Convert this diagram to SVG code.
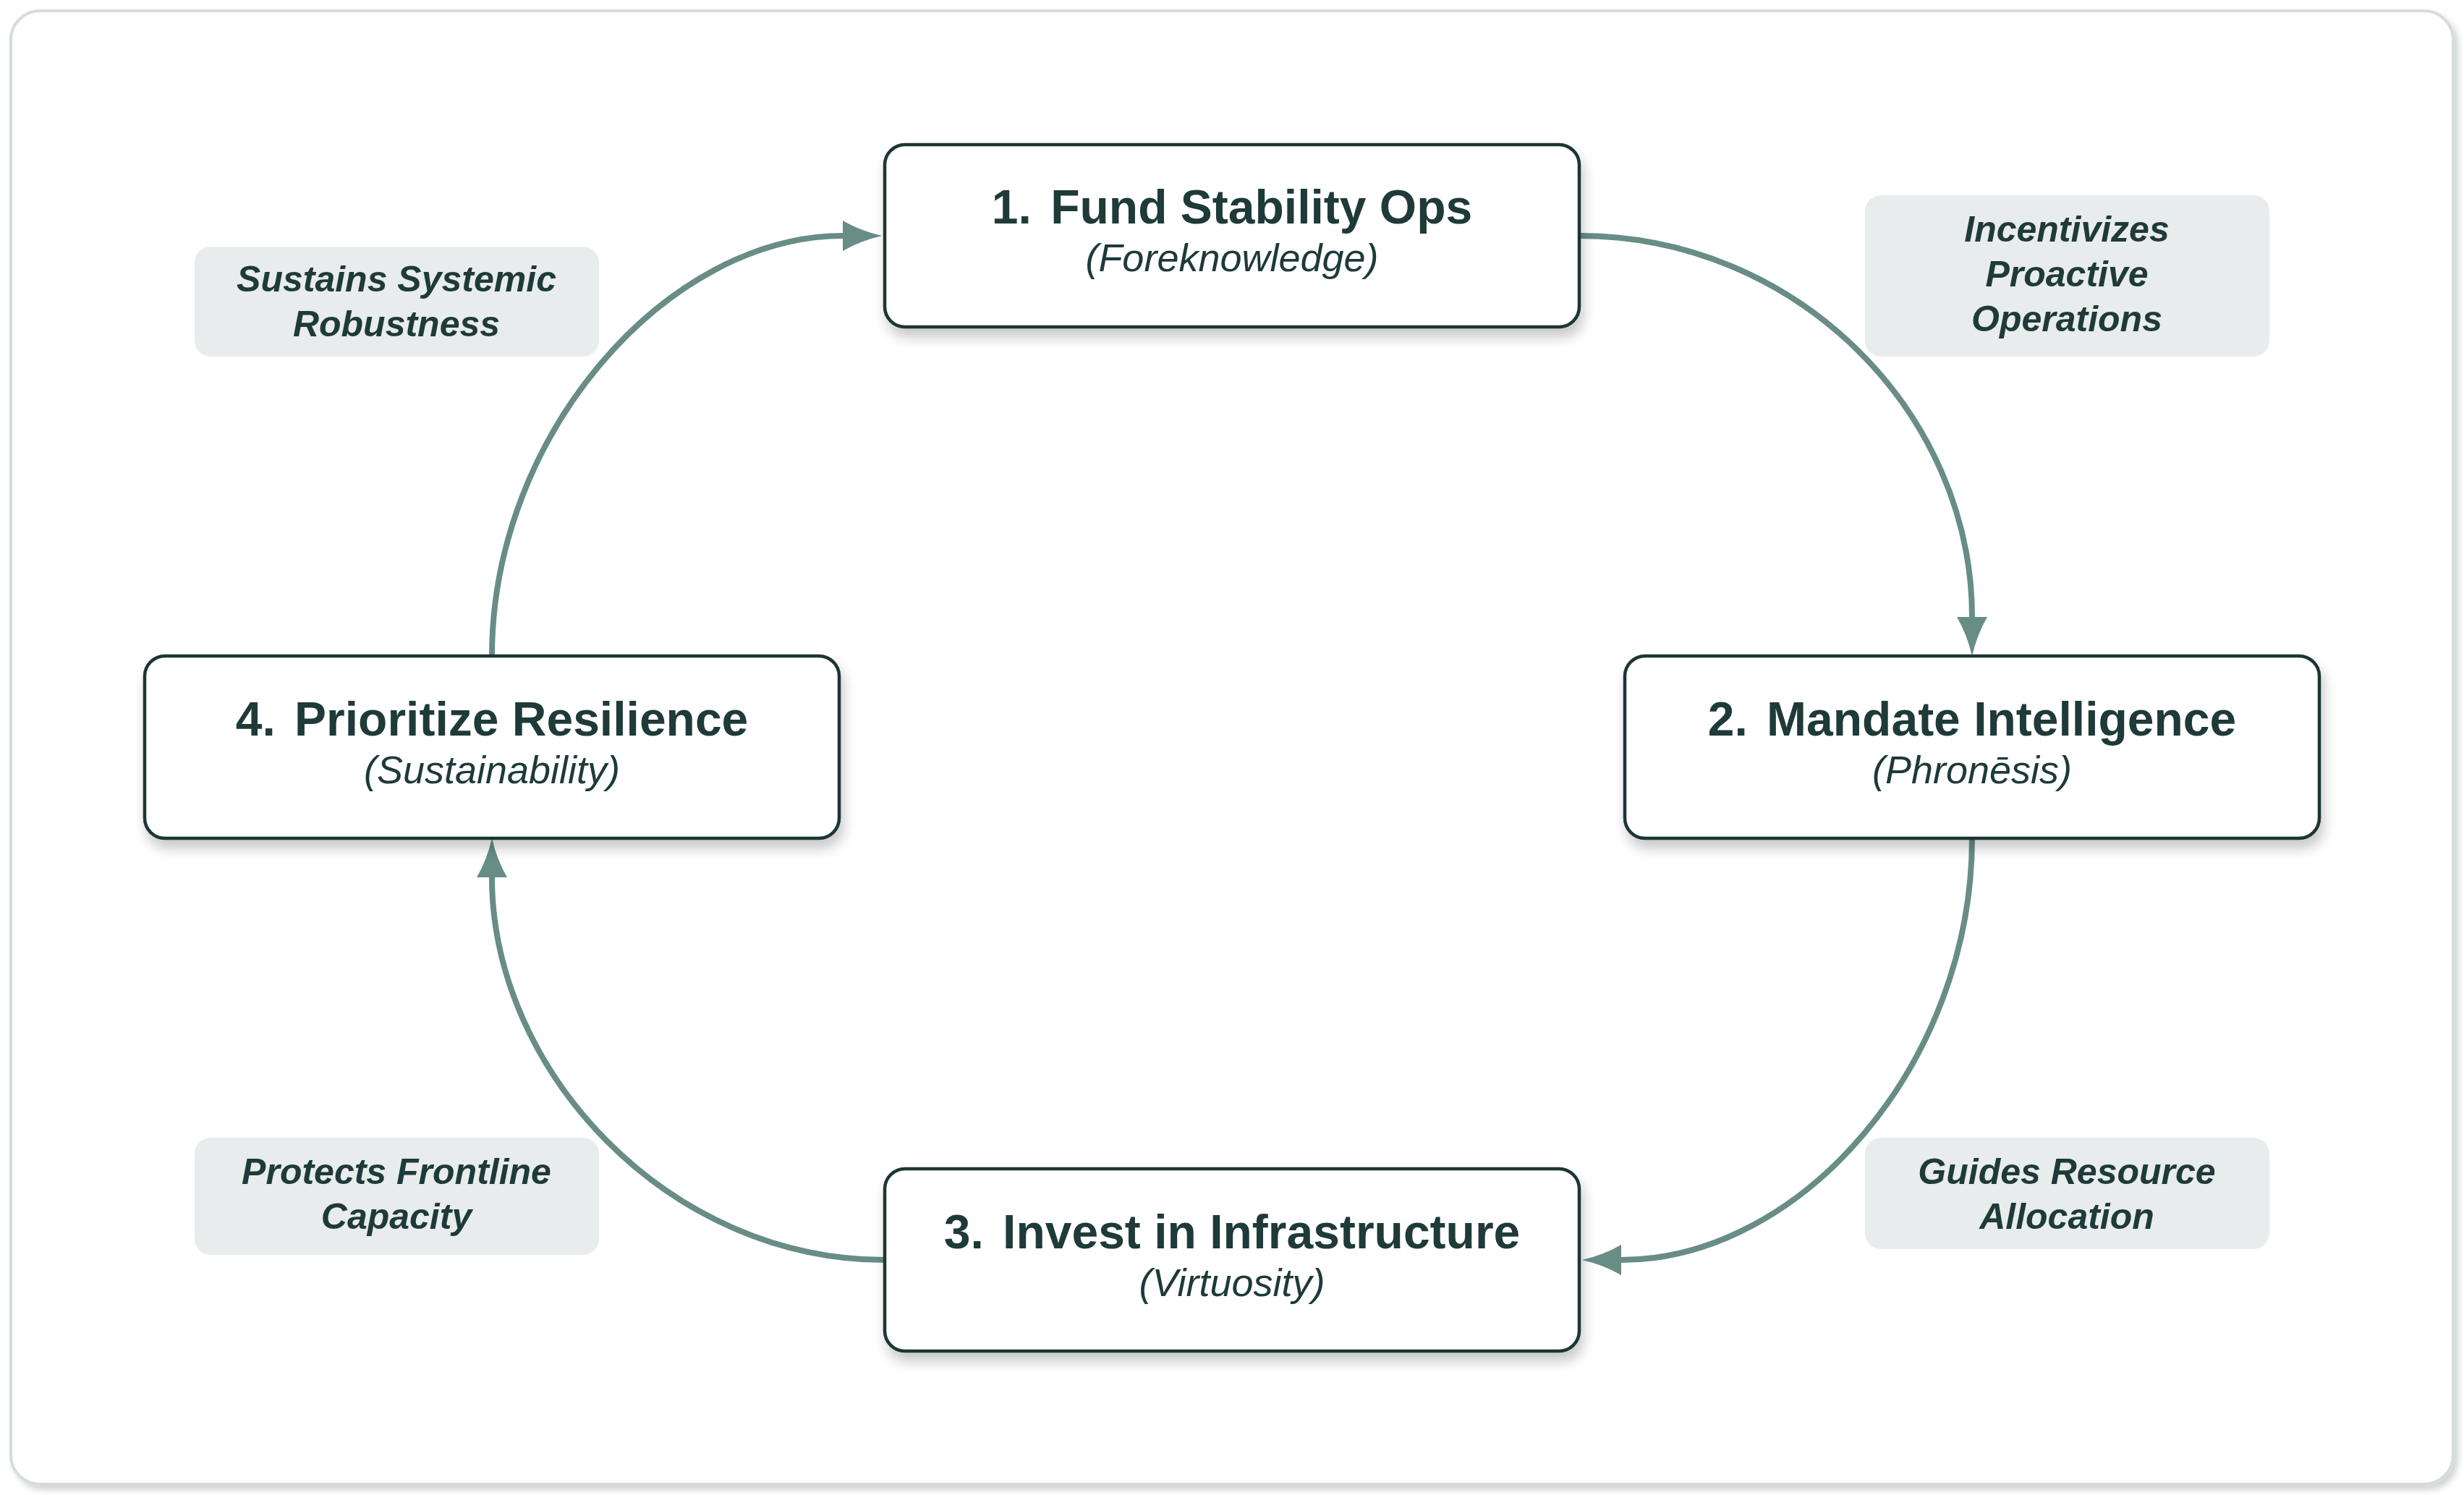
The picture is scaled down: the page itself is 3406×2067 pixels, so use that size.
<svg xmlns="http://www.w3.org/2000/svg" width="3406" height="2067" viewBox="0 0 3406 2067">
  <style>
    .frame { fill: #ffffff; stroke: #d5dcdc; stroke-width: 4; }
    .node-box { fill: #ffffff; stroke: #1e3636; stroke-width: 4.5; }
    .title { font-family: "Liberation Sans", Arial, sans-serif; font-weight: bold; font-size: 66px; fill: #1e3a39; text-anchor: middle; }
    .sub { font-family: "Liberation Sans", Arial, sans-serif; font-style: italic; font-size: 54px; fill: #1e3a39; text-anchor: middle; }
    .lbl-box { fill: #e8ecec; }
    .lbl { font-family: "Liberation Sans", Arial, sans-serif; font-style: italic; font-weight: bold; font-size: 50px; fill: #1e3a39; text-anchor: middle; }
    .edge { fill: none; stroke: #678d86; stroke-width: 8; }
  </style>
  <defs>
    <filter id="frameShadow" x="-5%" y="-5%" width="110%" height="110%">
      <feGaussianBlur in="SourceAlpha" stdDeviation="5"/>
      <feOffset dx="5" dy="6" result="b"/>
      <feComponentTransfer><feFuncA type="linear" slope="0.18"/></feComponentTransfer>
      <feMerge><feMergeNode/><feMergeNode in="SourceGraphic"/></feMerge>
    </filter>
    <filter id="nodeShadow" x="-10%" y="-20%" width="120%" height="150%">
      <feGaussianBlur in="SourceAlpha" stdDeviation="9"/>
      <feOffset dx="4" dy="12" result="b"/>
      <feComponentTransfer><feFuncA type="linear" slope="0.22"/></feComponentTransfer>
      <feMerge><feMergeNode/><feMergeNode in="SourceGraphic"/></feMerge>
    </filter>
    <marker id="arrow" markerUnits="userSpaceOnUse" markerWidth="60" markerHeight="50" refX="0" refY="0" orient="auto" overflow="visible">
      <path d="M0,-21 Q24,-7 54,0 Q24,7 0,21 Z" fill="#678d86"/>
    </marker>
  </defs>

  <rect class="frame" x="15" y="15" width="3376" height="2037" rx="40" filter="url(#frameShadow)"/>

  <g id="connectors">
    <path class="edge" d="M2183,326 C2483,326 2726,570 2726,853" marker-end="url(#arrow)"/>
    <path class="edge" d="M2726,1159 C2726,1470 2490,1742 2241,1742" marker-end="url(#arrow)"/>
    <path class="edge" d="M1223,1742 C923,1742 680,1480 680,1213" marker-end="url(#arrow)"/>
    <path class="edge" d="M680,907 C680,600 923,326 1165,326" marker-end="url(#arrow)"/>
  </g>

  <g id="edge-labels">
    <g id="label-incentivizes">
      <rect class="lbl-box" x="2578" y="270" width="559" height="223" rx="22"/>
      <text class="lbl" x="2857" y="334">Incentivizes</text>
      <text class="lbl" x="2857" y="396">Proactive</text>
      <text class="lbl" x="2857" y="458">Operations</text>
    </g>
    <g id="label-guides">
      <rect class="lbl-box" x="2578" y="1573" width="559" height="154" rx="22"/>
      <text class="lbl" x="2857" y="1637">Guides Resource</text>
      <text class="lbl" x="2857" y="1699">Allocation</text>
    </g>
    <g id="label-protects">
      <rect class="lbl-box" x="269" y="1573" width="559" height="162" rx="22"/>
      <text class="lbl" x="548" y="1637">Protects Frontline</text>
      <text class="lbl" x="548" y="1699">Capacity</text>
    </g>
    <g id="label-sustains">
      <rect class="lbl-box" x="269" y="341" width="559" height="152" rx="22"/>
      <text class="lbl" x="548" y="403">Sustains Systemic</text>
      <text class="lbl" x="548" y="465">Robustness</text>
    </g>
  </g>

  <g id="node-1">
    <rect class="node-box" x="1223" y="200" width="960" height="252" rx="28" filter="url(#nodeShadow)"/>
    <text class="title" x="1703" y="309"><tspan>1.</tspan><tspan dx="8"> Fund Stability Ops</tspan></text>
    <text class="sub" x="1703" y="375">(Foreknowledge)</text>
  </g>

  <g id="node-2">
    <rect class="node-box" x="2246" y="907" width="960" height="252" rx="28" filter="url(#nodeShadow)"/>
    <text class="title" x="2726" y="1017"><tspan>2.</tspan><tspan dx="8"> Mandate Intelligence</tspan></text>
    <text class="sub" x="2726" y="1083">(Phronēsis)</text>
  </g>

  <g id="node-3">
    <rect class="node-box" x="1223" y="1616" width="960" height="252" rx="28" filter="url(#nodeShadow)"/>
    <text class="title" x="1703" y="1726"><tspan>3.</tspan><tspan dx="8"> Invest in Infrastructure</tspan></text>
    <text class="sub" x="1703" y="1792">(Virtuosity)</text>
  </g>

  <g id="node-4">
    <rect class="node-box" x="200" y="907" width="960" height="252" rx="28" filter="url(#nodeShadow)"/>
    <text class="title" x="680" y="1017"><tspan>4.</tspan><tspan dx="8"> Prioritize Resilience</tspan></text>
    <text class="sub" x="680" y="1083">(Sustainability)</text>
  </g>
</svg>
